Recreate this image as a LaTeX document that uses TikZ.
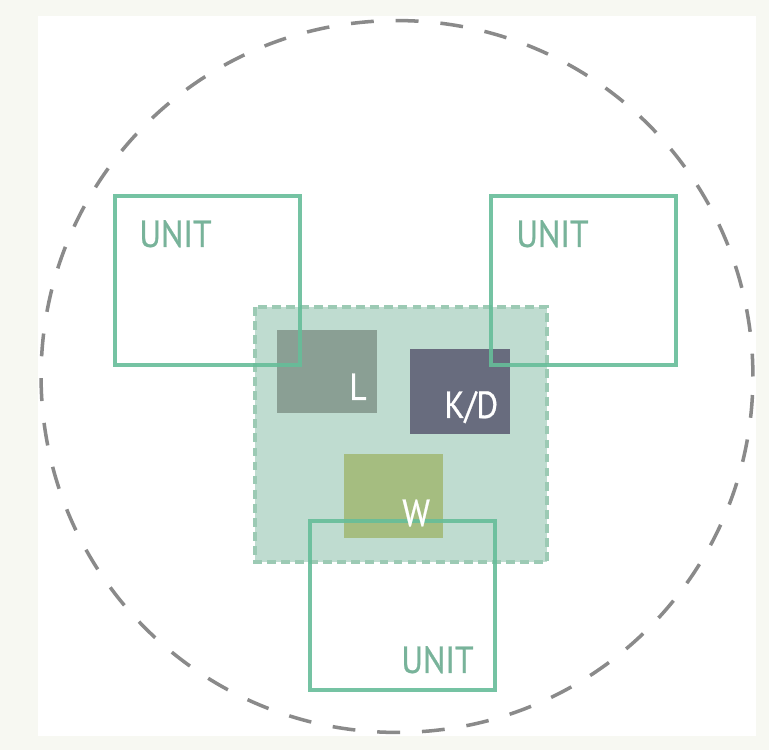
\documentclass[tikz,border=0pt]{standalone}
\usepackage{fontspec}
\setmainfont[FakeStretch=0.88, FakeBold=0.6]{PT Sans}
\usepackage{tikz}
\usepackage{xcolor}
\usetikzlibrary{positioning}

\definecolor{bgcream}{HTML}{F7F8F2}
\definecolor{unitgreen}{HTML}{66BD99}
\definecolor{unittext}{HTML}{78B39A}
\definecolor{sharedfill}{HTML}{BFDCD0}
\definecolor{shareddash}{HTML}{9CCAB4}
\definecolor{lfill}{HTML}{8A9F94}
\definecolor{kdfill}{HTML}{686C7E}
\definecolor{wfill}{HTML}{A5BD80}
\definecolor{ringgray}{HTML}{8A8A8A}

\tikzset{
    ring/.style={draw=ringgray, line width=2pt, dash pattern=on 13pt off 12.5pt},
    shared/.style={fill=sharedfill, draw=shareddash, line width=2.6pt, dash pattern=on 5pt off 3pt},
    unit/.style={draw=unitgreen, line width=2.3pt, draw opacity=0.9},
    unitlabel/.style={text=unittext, inner sep=0pt, anchor=base west, font=\fontsize{21.5}{24}\selectfont},
    roomlabel/.style={text=white, inner sep=0pt, anchor=base west, font=\fontsize{21.5}{24}\selectfont}
}

\begin{document}
\begin{tikzpicture}[x=0.02cm, y=-0.02cm]
        \useasboundingbox (0, 0) rectangle (769, 750);
        \fill[bgcream] (0, 0) rectangle (769, 750);
        \fill[white] (38, 16) rectangle (756, 736);

        \draw[ring] (397, 376.5) circle[radius=7.12cm];

        \draw[shared] (255, 307) rectangle (547, 562);

        \fill[lfill] (277, 330) rectangle (377, 413);
        \fill[kdfill] (410, 349) rectangle (510, 434);
        \fill[wfill] (344, 454) rectangle (443, 538);

        \foreach \x/\y in {115/196, 491/196, 310/521} {
            \draw[unit] (\x, \y) rectangle ++(185, 169);
        }

        \node[unitlabel] (unitA) at (139, 247) {UNIT};
        \node[unitlabel] (unitB) at (516, 247) {UNIT};
        \node[unitlabel] (unitC) at (401, 673) {UNIT};

        \node[roomlabel] (lounge) at (349, 400) {L};
        \node[roomlabel] (kitchen) at (444, 418) {K/D};
        \node[roomlabel] (wash) at (402, 526) {W};
    \end{tikzpicture}
\end{document}
